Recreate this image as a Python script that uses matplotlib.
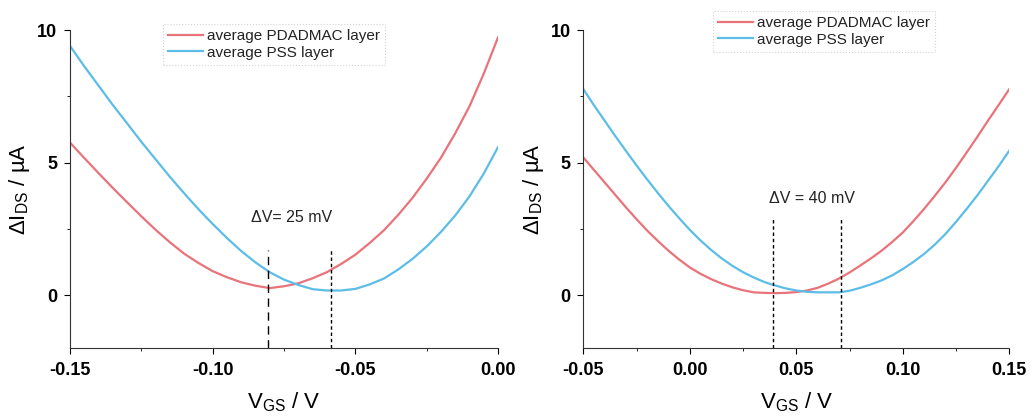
import matplotlib
matplotlib.use("Agg")
import matplotlib.pyplot as plt
from matplotlib.ticker import MultipleLocator, FormatStrFormatter

plt.rcParams['font.family'] = ['Liberation Sans', 'DejaVu Sans']

# left panel data (V_GS in V, dI_DS in uA), read every 5 mV
vgs_left = [-0.150, -0.145, -0.140, -0.135, -0.130, -0.125, -0.120, -0.115,
            -0.110, -0.105, -0.100, -0.095, -0.090, -0.085, -0.080, -0.075,
            -0.070, -0.065, -0.060, -0.055, -0.050, -0.045, -0.040, -0.035,
            -0.030, -0.025, -0.020, -0.015, -0.010, -0.005, 0.000]
pdadmac_left = [5.75, 5.17, 4.60, 4.04, 3.50, 2.97, 2.46, 1.99,
                1.56, 1.21, 0.90, 0.67, 0.48, 0.35, 0.26, 0.33,
                0.44, 0.63, 0.86, 1.17, 1.52, 1.96, 2.44, 3.02,
                3.66, 4.39, 5.18, 6.10, 7.12, 8.35, 9.72]
pss_left = [9.40, 8.63, 7.90, 7.17, 6.48, 5.78, 5.12, 4.46,
            3.84, 3.24, 2.68, 2.15, 1.66, 1.23, 0.86, 0.58,
            0.38, 0.22, 0.17, 0.17, 0.23, 0.40, 0.62, 0.96,
            1.36, 1.83, 2.38, 3.00, 3.72, 4.58, 5.58]

# right panel data, read every 5 mV
vgs_right = [-0.050, -0.045, -0.040, -0.035, -0.030, -0.025, -0.020, -0.015,
             -0.010, -0.005, 0.000, 0.005, 0.010, 0.015, 0.020, 0.025,
             0.030, 0.035, 0.040, 0.045, 0.050, 0.055, 0.060, 0.065,
             0.070, 0.075, 0.080, 0.085, 0.090, 0.095, 0.100, 0.105,
             0.110, 0.115, 0.120, 0.125, 0.130, 0.135, 0.140, 0.145, 0.150]
pdadmac_right = [5.19, 4.72, 4.25, 3.78, 3.31, 2.86, 2.43, 2.04,
                 1.67, 1.34, 1.04, 0.80, 0.60, 0.43, 0.29, 0.18,
                 0.10, 0.08, 0.07, 0.08, 0.11, 0.17, 0.27, 0.43,
                 0.62, 0.85, 1.11, 1.38, 1.67, 2.00, 2.36, 2.79,
                 3.25, 3.74, 4.25, 4.80, 5.38, 5.97, 6.58, 7.17, 7.77]
pss_right = [7.77, 7.16, 6.58, 6.00, 5.44, 4.89, 4.36, 3.85,
             3.36, 2.90, 2.46, 2.06, 1.70, 1.38, 1.10, 0.86,
             0.66, 0.49, 0.36, 0.25, 0.17, 0.12, 0.10, 0.10,
             0.10, 0.16, 0.27, 0.40, 0.55, 0.74, 0.98, 1.25,
             1.55, 1.90, 2.30, 2.76, 3.25, 3.76, 4.31, 4.86, 5.45]

labels = ['average PDADMAC layer', 'average PSS layer']
red = '#E9737A'
blue = '#5CBDE6'

fig = plt.figure(figsize=(10.34, 4.16), dpi=100)
ax1 = fig.add_axes([70/1034, 68/416, 428/1034, 318/416])
ax2 = fig.add_axes([583.3/1034, 68/416, 426/1034, 318/416])


def style(ax, xlim):
    ax.set_xlim(*xlim)
    ax.set_ylim(-2, 10)
    for s in ['top', 'right']:
        ax.spines[s].set_visible(False)
    for s in ['left', 'bottom']:
        ax.spines[s].set_linewidth(0.8)
        ax.spines[s].set_linestyle((0, (2, 1)))
        ax.spines[s].set_color('#333333')
    ax.xaxis.set_major_locator(MultipleLocator(0.05))
    ax.xaxis.set_minor_locator(MultipleLocator(0.025))
    ax.xaxis.set_major_formatter(FormatStrFormatter('%.2f'))
    ax.yaxis.set_major_locator(MultipleLocator(5))
    ax.yaxis.set_minor_locator(MultipleLocator(2.5))
    ax.tick_params(which='major', length=4, width=0.8, labelsize=13)
    ax.tick_params(axis='x', which='major', pad=6)
    ax.tick_params(axis='y', which='major', pad=5)
    ax.tick_params(which='minor', length=2, width=0.6)
    for t in ax.get_xticklabels() + ax.get_yticklabels():
        t.set_fontweight('bold')
    ax.set_xlabel('V$_{\\mathregular{GS}}$ / V', fontsize=16, labelpad=8)
    ax.set_ylabel('\u0394I$_{\\mathregular{DS}}$ / \u00b5A', fontsize=16)
    ax.yaxis.set_label_coords(-0.088, 0.5)


ax1.plot(vgs_left, pdadmac_left, color=red, lw=1.6, label=labels[0])
ax1.plot(vgs_left, pss_left, color=blue, lw=1.6, label=labels[1])
ax1.vlines(-0.0805, -2, 1.7, colors='black', lw=1.0, linestyles=(0, (6, 4)))
ax1.vlines(-0.0585, -2, 1.7, colors='black', lw=1.0, linestyles=(0, (2.5, 2)))
ax1.text(-0.0723, 2.92, '\u0394V= 25 mV', ha='center', va='center',
         fontsize=11.5, color='#222222')
style(ax1, (-0.15, 0.0))

ax2.plot(vgs_right, pdadmac_right, color=red, lw=1.6, label=labels[0])
ax2.plot(vgs_right, pss_right, color=blue, lw=1.6, label=labels[1])
ax2.vlines(0.0392, -2, 2.9, colors='black', lw=1.0, linestyles=(0, (2.5, 2)))
ax2.vlines(0.071, -2, 2.9, colors='black', lw=1.0, linestyles=(0, (2.5, 2)))
ax2.text(0.0574, 3.63, '\u0394V = 40 mV', ha='center', va='center',
         fontsize=11.5, color='#222222')
style(ax2, (-0.05, 0.15))

for ax, (lx, ty) in [(ax1, (163, 24)), (ax2, (713, 11))]:
    leg = ax.legend(loc='upper left', bbox_to_anchor=(lx/1034, 1 - ty/416),
                    bbox_transform=fig.transFigure, borderaxespad=0,
                    fontsize=11, handlelength=2.3, handletextpad=0.2,
                    labelspacing=0.15, borderpad=0.35, fancybox=False,
                    frameon=True)
    leg.get_frame().set_edgecolor('#c8c8c8')
    leg.get_frame().set_linestyle(':')
    leg.get_frame().set_linewidth(0.8)
    for t in leg.get_texts():
        t.set_color('#222222')

fig.savefig('out.png', dpi=100)
